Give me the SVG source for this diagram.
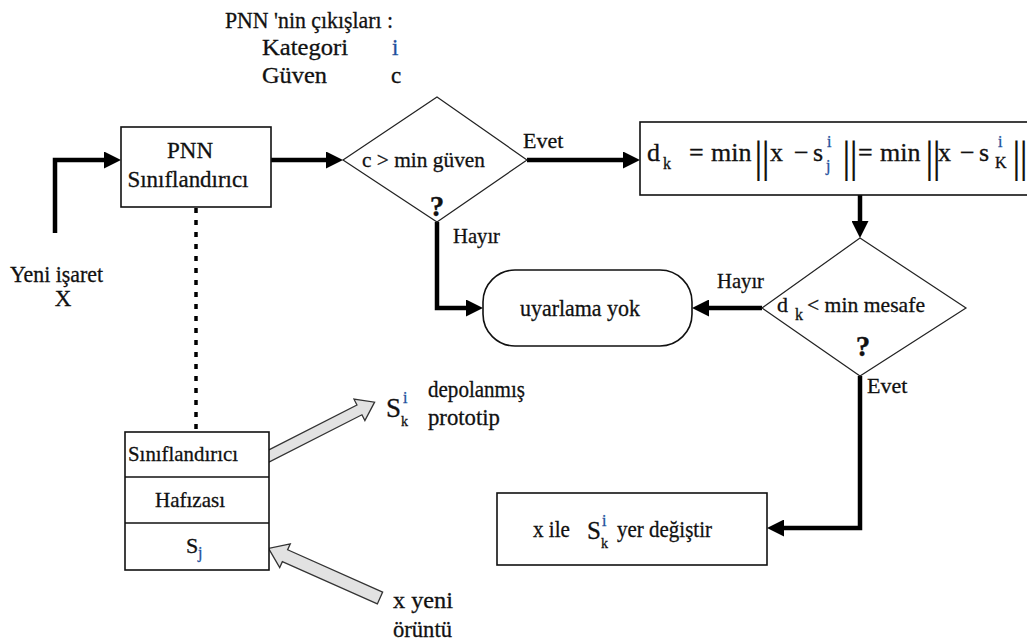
<svg xmlns="http://www.w3.org/2000/svg" width="1027" height="641" viewBox="0 0 1027 641">
<defs>
<style>
text{font-family:"Liberation Serif","Times New Roman",serif;font-size:23px;fill:#111;stroke:#111;stroke-width:0.3}
.f22{font-size:22px}
.f{font-size:26px}
.m{text-anchor:middle}
.q{font-size:29px;font-weight:bold}
.sm{font-size:16px}
.hl{fill:#1d4f9c;stroke:#1d4f9c}
.norm{font-size:44px;letter-spacing:-1.5px;stroke:none}
.box{fill:#fff;stroke:#111;stroke-width:1.6}
.dia{fill:#fff;stroke:#222;stroke-width:1.2}
.conn{fill:none;stroke:#000;stroke-width:4.5}
.dot{fill:none;stroke:#000;stroke-width:3.5;stroke-dasharray:5 7}
.garrow{fill:#e2e2e2;stroke:#333;stroke-width:1.3}
</style>
<marker id="ah" viewBox="0 0 17 17" markerWidth="17" markerHeight="17" refX="3" refY="8.5" orient="auto" markerUnits="userSpaceOnUse">
<path d="M0,0 L17,8.5 L0,17 z" fill="#000"/>
</marker>
</defs>
<rect width="1027" height="641" fill="#fff"/>

<g id="outputs-label">
<text x="225" y="28" textLength="168" lengthAdjust="spacingAndGlyphs">PNN 'nin çıkışları :</text>
<text x="262" y="55" textLength="86" lengthAdjust="spacingAndGlyphs">Kategori</text>
<text x="392" y="55" class="hl">i</text>
<text x="262" y="83" textLength="65" lengthAdjust="spacingAndGlyphs">Güven</text>
<text x="391" y="83">c</text>
</g>

<g id="input-label">
<text x="10" y="282" textLength="93" lengthAdjust="spacingAndGlyphs">Yeni işaret</text>
<text x="63" y="306" class="m">X</text>
</g>

<g id="connectors">
<path class="conn" d="M55,233 V160 H107" marker-end="url(#ah)"/>
<path class="conn" d="M271,160 H329" marker-end="url(#ah)"/>
<path class="conn" d="M527,160 H626" marker-end="url(#ah)"/>
<path class="conn" d="M860,195 V224" marker-end="url(#ah)"/>
<path class="conn" d="M437,222 V308 H469" marker-end="url(#ah)"/>
<path class="conn" d="M762,308 H706" marker-end="url(#ah)"/>
<path class="conn" d="M860,376 V528 H781" marker-end="url(#ah)"/>
<path class="dot" d="M196,208 V432"/>
<polygon class="garrow" transform="translate(265,458) rotate(-27)" points="0,-5.5 106,-5.5 106,-12 123,0 106,12 106,5.5 0,5.5"/>
<polygon class="garrow" transform="translate(380,598) rotate(204)" points="0,-6.5 104,-6.5 104,-13 122,0 104,13 104,6.5 0,6.5"/>
<text x="523" y="148" class="f22">Evet</text>
<text x="453" y="243" class="f22" textLength="47" lengthAdjust="spacingAndGlyphs">Hayır</text>
<text x="717" y="288" class="f22" textLength="47" lengthAdjust="spacingAndGlyphs">Hayır</text>
<text x="867" y="393" class="f22">Evet</text>
</g>

<g id="pnn-classifier">
<rect class="box" x="121" y="127" width="150" height="80"/>
<text x="190" y="158" class="m">PNN</text>
<text x="188" y="187" class="m" textLength="121" lengthAdjust="spacingAndGlyphs">Sınıflandırıcı</text>
</g>

<g id="decision-confidence">
<polygon class="dia" points="437,97 527,160 437,222 343,160"/>
<text x="362" y="167" class="f22" textLength="123" lengthAdjust="spacingAndGlyphs">c &gt; min güven</text>
<text x="437" y="216" class="m q">?</text>
</g>

<g id="distance-formula">
<rect class="box" x="640" y="122" width="400" height="73"/>
<text x="647" y="161" class="f">d</text>
<text x="663" y="169" class="sm">k</text>
<text x="689" y="161" class="f">=</text>
<text x="711" y="161" class="f">min</text>
<text x="754" y="172" class="norm">||</text>
<text x="770" y="161" class="f">x</text>
<text x="794" y="161" class="f">−</text>
<text x="813" y="161" class="f">s</text>
<text x="827" y="147" class="sm hl">i</text>
<text x="826" y="171" class="sm hl">j</text>
<text x="842" y="172" class="norm">||</text>
<text x="858" y="161" class="f">=</text>
<text x="880" y="161" class="f">min</text>
<text x="925" y="172" class="norm">||</text>
<text x="938" y="161" class="f">x</text>
<text x="960" y="161" class="f">−</text>
<text x="979" y="161" class="f">s</text>
<text x="998" y="147" class="sm hl">i</text>
<text x="995" y="168" class="sm">K</text>
<text x="1012" y="172" class="norm">||</text>
</g>

<g id="decision-distance">
<polygon class="dia" points="860,238 966,308 860,376 762,308"/>
<text x="777" y="312" class="f22">d</text>
<text x="795" y="320" class="sm">k</text>
<text x="807" y="312" class="f22" textLength="118" lengthAdjust="spacingAndGlyphs">&lt; min mesafe</text>
<text x="863" y="356" class="m q">?</text>
</g>

<g id="no-adaptation">
<rect class="box" x="483" y="270" width="209" height="76" rx="32" ry="32"/>
<text x="580" y="316" class="m" textLength="120" lengthAdjust="spacingAndGlyphs">uyarlama yok</text>
</g>

<g id="replace-prototype">
<rect class="box" x="497" y="493" width="270" height="72"/>
<text x="533" y="537" textLength="37" lengthAdjust="spacingAndGlyphs">x ile</text>
<text x="587" y="539" style="font-size:25px">S</text>
<text x="602" y="526" class="sm hl">i</text>
<text x="601" y="548" style="font-size:14px">k</text>
<text x="617" y="537" textLength="95" lengthAdjust="spacingAndGlyphs">yer değiştir</text>
</g>

<g id="classifier-memory">
<rect class="box" x="125" y="432" width="144" height="138"/>
<line x1="125" y1="477" x2="269" y2="477" stroke="#111" stroke-width="1.6"/>
<line x1="125" y1="523" x2="269" y2="523" stroke="#111" stroke-width="1.6"/>
<text x="128" y="461" class="f22" textLength="110" lengthAdjust="spacingAndGlyphs">Sınıflandırıcı</text>
<text x="190" y="507" class="m f22" textLength="70" lengthAdjust="spacingAndGlyphs">Hafızası</text>
<text x="186" y="553" class="f22">S</text>
<text x="198" y="558" class="sm hl">j</text>
</g>

<g id="stored-prototype">
<text x="386" y="417" style="font-size:27px">S</text>
<text x="403" y="403" class="sm hl">i</text>
<text x="401" y="426" style="font-size:14px">k</text>
<text x="428" y="397" textLength="97" lengthAdjust="spacingAndGlyphs">depolanmış</text>
<text x="428" y="425" textLength="72" lengthAdjust="spacingAndGlyphs">prototip</text>
</g>

<g id="new-pattern">
<text x="393" y="608" textLength="60" lengthAdjust="spacingAndGlyphs">x  yeni</text>
<text x="393" y="637" textLength="59" lengthAdjust="spacingAndGlyphs">örüntü</text>
</g>
</svg>
